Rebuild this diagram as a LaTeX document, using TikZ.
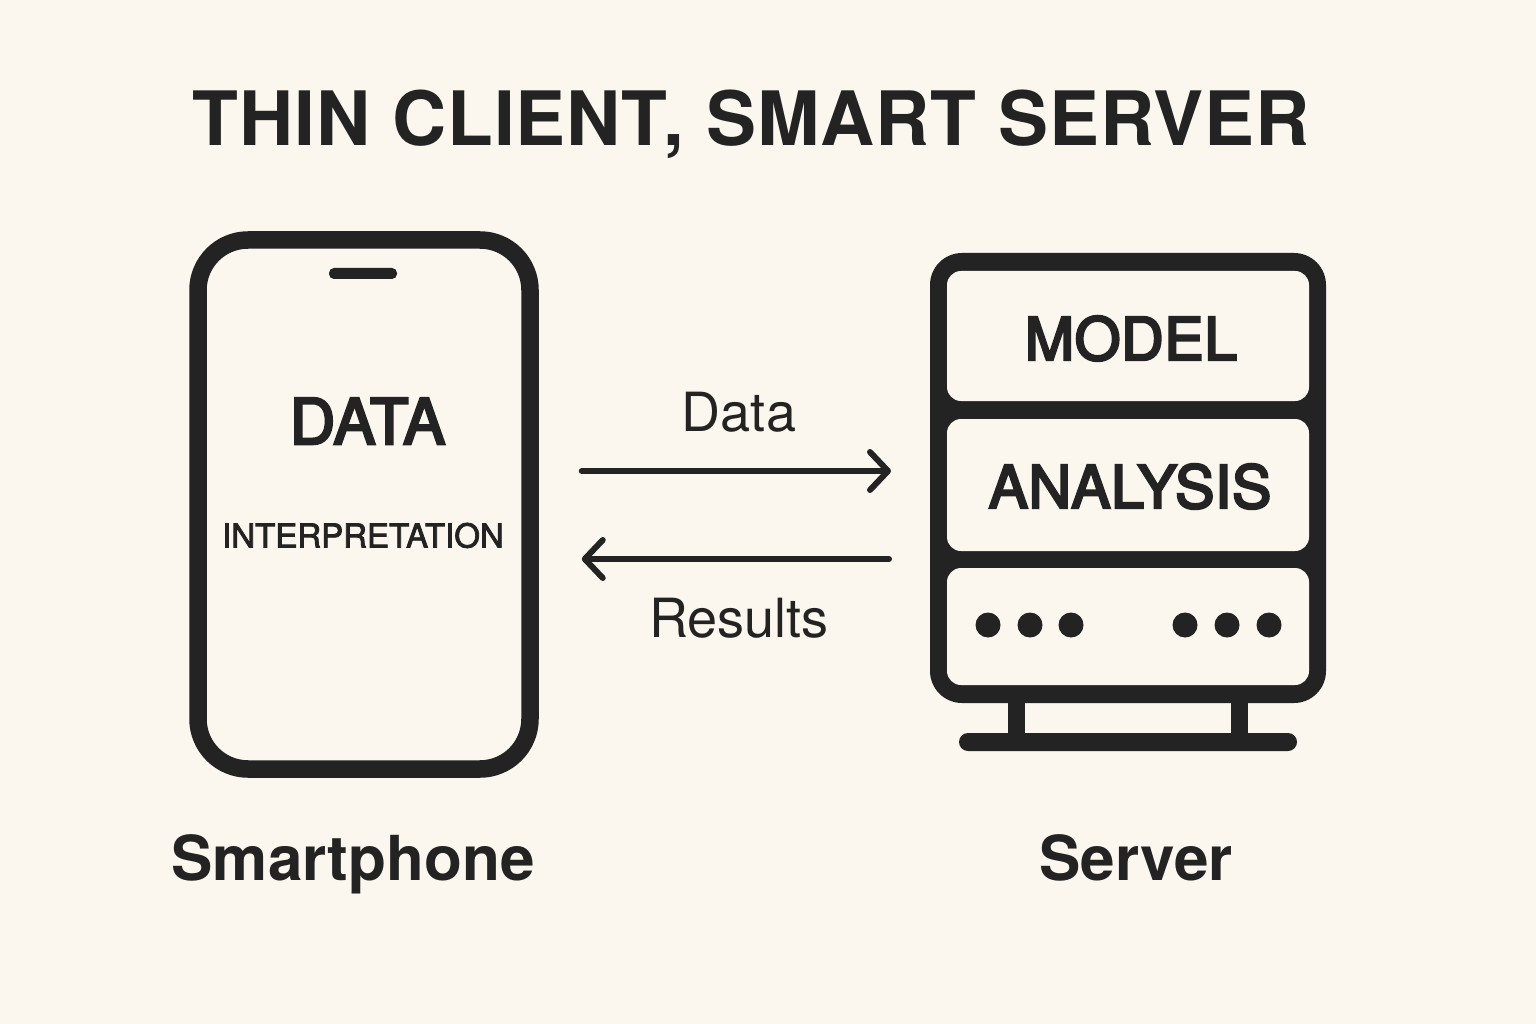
\documentclass[tikz,border=0pt]{standalone}
\usepackage{fontspec}
\setmainfont{TeX Gyre Heros}
\newfontfamily\semi[FakeBold=4,LetterSpace=1]{TeX Gyre Heros}
\newfontfamily\semitight[FakeBold=2.5]{TeX Gyre Heros}
\newfontfamily\headfont[LetterSpace=1.2]{TeX Gyre Heros}
\usetikzlibrary{arrows.meta}
\definecolor{paper}{HTML}{FBF6EE}
\definecolor{ink}{HTML}{222322}
\tikzset{
    shell/.style={draw=ink,line width=17.5pt,rounded corners=50pt,minimum width=332pt,minimum height=529pt,inner sep=0pt},
    solid box/.style={fill=ink,inner sep=0pt,outer sep=0pt},
    slot/.style={fill=paper,inner sep=0pt,outer sep=0pt,rounded corners=14pt,minimum width=362pt},
    lamp/.style={circle,fill=ink,inner sep=0pt,minimum size=25pt},
    flow/.style={draw=ink,line width=6pt,line cap=round,-{Straight Barb[length=18pt,width=38pt,round]}},
    foot/.style={draw=ink,line width=17pt},
    word/.style={text=ink,anchor=base,inner sep=0pt}
}
\begin{document}
\begin{tikzpicture}[x=1pt,y=-1pt]
    \useasboundingbox[fill=paper] (0,0) rectangle (1536,1024);
    \node [word,font=\fontsize{75}{80}\headfont\bfseries] (title) at (751,146) {THIN CLIENT, SMART SERVER};
    % phone
    \node [shell] (phone) at (364,504.5) {};
    \node [solid box,rounded corners=5pt,minimum width=68pt,minimum height=11pt] (speaker) at (363,273.5) {};
    \node [word,font=\fontsize{63}{66}\semi] (dataword) at (367.5,444) {DATA};
    \node [word,font=\fontsize{33}{38}\semitight] (interp) at (363,547.5) {INTERPRETATION};
    \node [word,font=\fontsize{62}{66}\selectfont\bfseries] (phonename) at (353,880) {Smartphone};
    % server
    \node [solid box,rounded corners=32pt,minimum width=396pt,minimum height=450pt] (server) at (1128,478) {};
    \node [slot,minimum height=130pt] (slotA) at (1128,336) {};
    \node [slot,minimum height=132pt] (slotB) at (1128,485) {};
    \node [slot,minimum height=117pt] (slotC) at (1128,626.5) {};
    \node [word,font=\fontsize{59}{62}\semi] (model) at (1131,360) {MODEL};
    \node [word,font=\fontsize{59}{62}\semi] (analysis) at (1130,508) {ANALYSIS};
    \foreach \x/\n in {988/a,1030/b,1071/c,1185/d,1227/e,1269/f}
        \node [lamp] (lamp\n) at (\x,625) {};
    \node [solid box,rounded corners=9pt,minimum width=338pt,minimum height=18pt] (stand) at (1128,742) {};
    \foreach \d in {-111.5,111.5}
        \draw [foot] ([xshift=\d pt]server.south) -- ([xshift=\d pt]stand.north);
    \node [word,font=\fontsize{62}{66}\selectfont\bfseries] (servername) at (1136,880) {Server};
    % arrows
    \coordinate (upper) at (700,471);
    \coordinate (lower) at (700,559);
    \draw [flow,shorten <=43pt,shorten >=39pt] (phone.east |- upper) -- (server.west |- upper);
    \draw [flow,shorten <=41pt,shorten >=43pt] (server.west |- lower) -- (phone.east |- lower);
    \node [word,font=\fontsize{54}{58}\selectfont] (dataflow) at (739,431) {Data};
    \node [word,font=\fontsize{54}{58}\selectfont] (resultflow) at (739,637) {Results};
\end{tikzpicture}
\end{document}
